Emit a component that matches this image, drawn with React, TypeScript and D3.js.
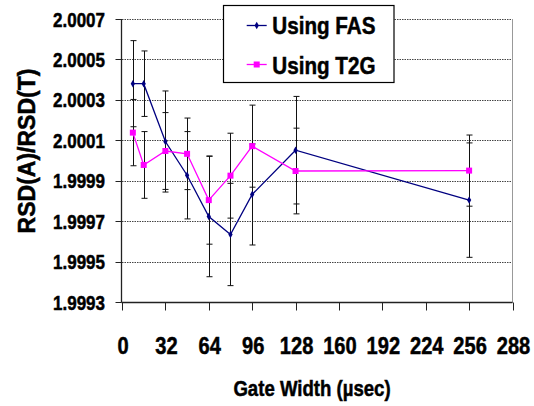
import React from "react";
import * as d3 from "d3";

const gateWidths = [8, 16, 32, 48, 64, 80, 96, 128, 256];
const fasValues = [2.00038, 2.00038, 2.000094, 1.999927, 1.999723, 1.999634, 1.999832, 2.000051, 1.999804];
const fasErrors = [0.000213, 0.000162, 0.00025, 0.000216, 0.000298, 0.000253, 0.00025, 0.000266, 0.000283];
const t2gValues = [2.000138, 1.999978, 2.000047, 2.000033, 1.999804, 1.999925, 2.000071, 1.999948, 1.99995];
const t2gErrors = [0.000164, 0.000165, 0.00019, 0.000177, 0.000218, 0.00021, 0.000203, 0.000212, 0.000176];
const xTicks = [0, 32, 64, 96, 128, 160, 192, 224, 256, 288];
const yTicks = [1.9993, 1.9995, 1.9997, 1.9999, 2.0001, 2.0003, 2.0005, 2.0007];
const seriesNames = ["Using FAS", "Using T2G"];
const xTitle = "Gate Width (\u00b5sec)";
const yTitle = "RSD(A)/RSD(T)";

const W = 534;
const H = 406;
const FONT = "'Liberation Sans', Arial, sans-serif";

export default function App() {
  const x = d3.scaleLinear().domain([0, 288]).range([122, 512.5]);
  const y = d3.scaleLinear().domain([1.9993, 2.0007]).range([302, 19]);

  const fas = gateWidths.map((g, i) => ({ g, v: fasValues[i], e: fasErrors[i] }));
  const t2g = gateWidths.map((g, i) => ({ g, v: t2gValues[i], e: t2gErrors[i] }));
  const line = d3
    .line<{ g: number; v: number }>()
    .x((d) => x(d.g))
    .y((d) => y(d.v));

  const errBars = (data: { g: number; v: number; e: number }[], key: string) =>
    data.map((d, i) => {
      const cx = Math.round(x(d.g)) + 0.5;
      const y1 = y(d.v + d.e);
      const y2 = y(d.v - d.e);
      return (
        <g key={key + i} stroke="#111" strokeWidth={1}>
          <line x1={cx} x2={cx} y1={y1} y2={y2} />
          <line x1={cx - 3} x2={cx + 3} y1={y1} y2={y1} />
          <line x1={cx - 3} x2={cx + 3} y1={y2} y2={y2} />
        </g>
      );
    });

  const diamond = d3.symbol().type(d3.symbolDiamond).size(16)() as string;
  const textStroke = { stroke: "#000", strokeWidth: 0.5 };

  return (
    <svg
      width={W}
      height={H}
      style={{ position: "absolute", left: 0, top: 0, display: "block", background: "#fff" }}
      fontFamily={FONT}
      fontWeight="bold"
    >
      <rect x={0} y={0} width={W} height={H} fill="#fff" />
      {/* gridlines */}
      {yTicks.map((t) => (
        <line
          key={"g" + t}
          x1={122}
          x2={512.5}
          y1={Math.round(y(t)) + 0.5}
          y2={Math.round(y(t)) + 0.5}
          stroke="#444"
          strokeWidth={1}
          strokeDasharray="1.5 1"
        />
      ))}
      {/* plot area right border */}
      <line x1={512.5} x2={512.5} y1={19} y2={302} stroke="#999" strokeWidth={1} />
      {/* y axis */}
      <line x1={121.5} x2={121.5} y1={19} y2={302.5} stroke="#222" strokeWidth={1.3} />
      {yTicks.map((t) => (
        <line key={"yt" + t} x1={115.5} x2={121.5} y1={Math.round(y(t)) + 0.5} y2={Math.round(y(t)) + 0.5} stroke="#222" />
      ))}
      {yTicks.map((t) => (
        <g key={"yl" + t} transform={`translate(105,${y(t) + 7.6}) scale(0.81,1)`}>
          <text textAnchor="end" fontSize={21} fill="#000" {...textStroke}>
            {t.toFixed(4)}
          </text>
        </g>
      ))}
      {/* x axis */}
      <line x1={121.5} x2={512.5} y1={302.5} y2={302.5} stroke="#222" strokeWidth={1.3} />
      {xTicks.map((t) => (
        <line key={"xt" + t} x1={Math.round(x(t)) + 0.5} x2={Math.round(x(t)) + 0.5} y1={302.5} y2={310.5} stroke="#222" />
      ))}
      {xTicks.map((t) => (
        <g key={"xl" + t} transform={`translate(${x(t) + 1},354) scale(0.82,1)`}>
          <text textAnchor="middle" fontSize={24.5} fill="#000" {...textStroke}>
            {t}
          </text>
        </g>
      ))}
      {/* titles */}
      <g transform="translate(312,396) scale(0.845,1)">
        <text textAnchor="middle" fontSize={22} fill="#000" {...textStroke}>
          {xTitle}
        </text>
      </g>
      <text transform="translate(35,151) rotate(-90)" textAnchor="middle" fontSize={23} fill="#000" {...textStroke}>
        {yTitle}
      </text>

      {/* error bars */}
      {errBars(fas, "fe")}
      {errBars(t2g, "te")}

      {/* lines */}
      <path d={line(fas) as string} fill="none" stroke="#000080" strokeWidth={1.3} />
      <path d={line(t2g) as string} fill="none" stroke="#FF00FF" strokeWidth={1.3} />
      {fas.map((d, i) => (
        <path key={"fm" + i} d={diamond} transform={`translate(${x(d.g)},${y(d.v)})`} fill="#000080" />
      ))}
      {t2g.map((d, i) => (
        <rect key={"tm" + i} x={x(d.g) - 3} y={y(d.v) - 3} width={6} height={6} fill="#FF00FF" />
      ))}

      {/* legend */}
      <rect x={223.5} y={5.5} width={170.5} height={77} fill="#fff" stroke="#000" strokeWidth={1.2} />
      <line x1={246.7} x2={266.7} y1={25.5} y2={25.5} stroke="#000080" strokeWidth={1.3} />
      <path d={diamond} transform="translate(256.7,25.5)" fill="#000080" />
      <line x1={246.7} x2={266.7} y1={64.5} y2={64.5} stroke="#FF00FF" strokeWidth={1.3} />
      <rect x={253.7} y={61.5} width={6} height={6} fill="#FF00FF" />
      <g transform="translate(272.3,34) scale(0.86,1)">
        <text fontSize={24} fill="#000" {...textStroke}>
          {seriesNames[0]}
        </text>
      </g>
      <g transform="translate(272.3,74.3) scale(0.86,1)">
        <text fontSize={24} fill="#000" {...textStroke}>
          {seriesNames[1]}
        </text>
      </g>
    </svg>
  );
}
